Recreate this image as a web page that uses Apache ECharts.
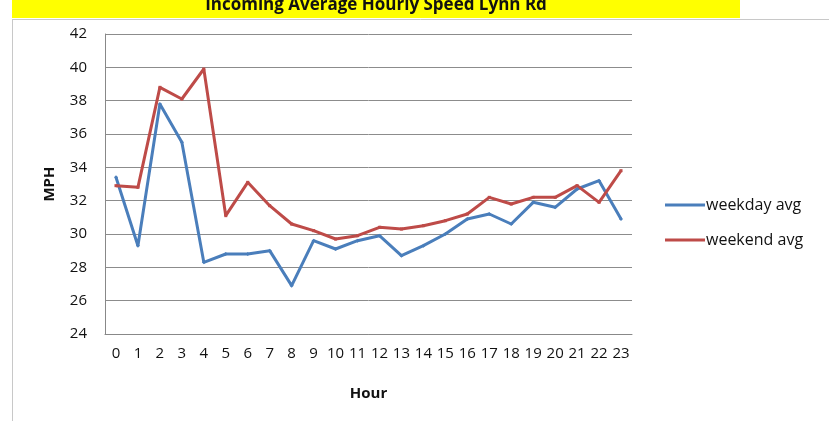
<!DOCTYPE html>
<html>
<head>
<meta charset="utf-8">
<script src="https://cdn.jsdelivr.net/npm/echarts@6/dist/echarts.min.js"></script>
<style>
  html, body { margin: 0; padding: 0; background: #fff; }
  #chart { width: 829px; height: 421px; }
</style>
</head>
<body>
<div id="chart"></div>
<script>
// 数据
const hours = ['0','1','2','3','4','5','6','7','8','9','10','11','12','13','14','15','16','17','18','19','20','21','22','23'];
const weekdayAvg = [33.4, 29.3, 37.8, 35.5, 28.3, 28.8, 28.8, 29.0, 26.9, 29.6, 29.1, 29.6, 29.9, 28.7, 29.3, 30.0, 30.9, 31.2, 30.6, 31.9, 31.6, 32.7, 33.2, 30.9];
const weekendAvg = [32.9, 32.8, 38.8, 38.1, 39.9, 31.1, 33.1, 31.7, 30.6, 30.2, 29.7, 29.9, 30.4, 30.3, 30.5, 30.8, 31.2, 32.2, 31.8, 32.2, 32.2, 32.9, 31.9, 33.8];
const yTicks = [24, 26, 28, 30, 32, 34, 36, 38, 40, 42];

const titleText = 'Incoming Average Hourly Speed Lynn Rd';
const fontFamily = '"Open Sans", "Liberation Sans", sans-serif';

const chart = echarts.init(document.getElementById('chart'));

chart.setOption({
    animation: false,
    textStyle: { fontFamily: fontFamily },
    graphic: [
        // 标题黄色底条
        { type: 'rect', shape: { x: 12, y: 0, width: 728, height: 18 }, style: { fill: '#ffff00' } },
        { type: 'text', style: { x: 376, y: 5, text: titleText, fontSize: 17, fontWeight: 'bold', fill: '#111', align: 'center', verticalAlign: 'middle', fontFamily: fontFamily } },
        // 图表外框
        { type: 'line', shape: { x1: 12, y1: 19.5, x2: 829, y2: 19.5 }, style: { stroke: '#c8c8c8', lineWidth: 1 } },
        { type: 'line', shape: { x1: 12.5, y1: 19, x2: 12.5, y2: 421 }, style: { stroke: '#c8c8c8', lineWidth: 1 } }
    ],
    grid: { left: 105, right: 197, top: 34, bottom: 87 },
    legend: {
        orient: 'vertical',
        left: 660,
        top: 192,
        icon: 'rect',
        itemWidth: 40,
        itemHeight: 3,
        itemGap: 19,
        textStyle: { fontSize: 16, color: '#111', padding: [0, 0, 0, -4] },
        data: ['weekday avg', 'weekend avg']
    },
    xAxis: {
        type: 'category',
        data: hours,
        boundaryGap: true,
        name: 'Hour',
        nameLocation: 'middle',
        nameGap: 52,
        nameTextStyle: { fontSize: 15, fontWeight: 'bold', color: '#111' },
        axisLine: { lineStyle: { color: '#888' } },
        axisTick: { show: false },
        axisLabel: { fontSize: 15, color: '#111', margin: 12, interval: 0 }
    },
    yAxis: {
        type: 'value',
        min: yTicks[0],
        max: yTicks[yTicks.length - 1],
        interval: 2,
        name: 'MPH',
        nameLocation: 'middle',
        nameGap: 48,
        nameTextStyle: { fontSize: 15, fontWeight: 'bold', color: '#111' },
        axisLine: { show: true, lineStyle: { color: '#888' } },
        axisTick: { show: false },
        axisLabel: { fontSize: 15, color: '#111', margin: 18 },
        splitLine: { lineStyle: { color: '#8c8c8c', width: 1 } }
    },
    series: [
        {
            name: 'weekday avg',
            type: 'line',
            data: weekdayAvg,
            symbol: 'diamond',
            symbolSize: 4,
            lineStyle: { width: 3, color: '#4a7ebb' },
            itemStyle: { color: '#4a7ebb' }
        },
        {
            name: 'weekend avg',
            type: 'line',
            data: weekendAvg,
            symbol: 'rect',
            symbolSize: 3,
            lineStyle: { width: 3, color: '#be4b48' },
            itemStyle: { color: '#be4b48' }
        }
    ]
});
</script>
</body>
</html>
